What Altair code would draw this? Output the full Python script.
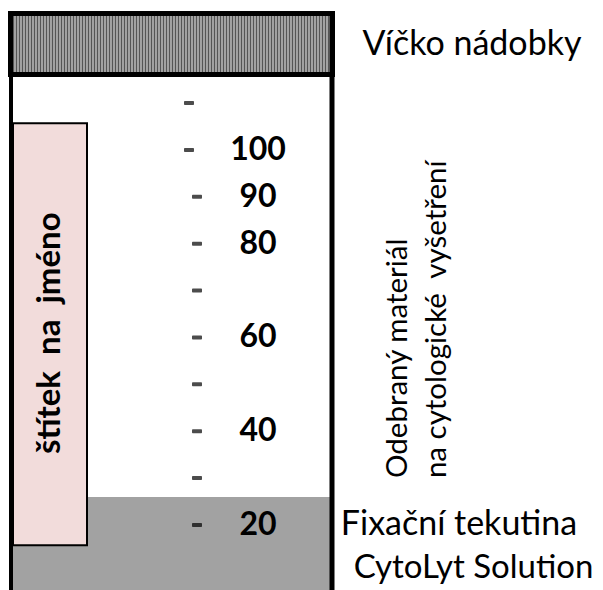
import altair as alt
import pandas as pd

# ---- data -------------------------------------------------------------
dash_levels = [110, 100, 90, 80, 70, 60, 50, 40, 30, 20]
number_levels = [100, 90, 80, 60, 40, 20]
number_labels = ["100", "90", "80", "60", "40", "20"]

NB = "\u00a0"
cap_label = "Víčko nádobky"
fluid_label_1 = "Fixační tekutina"
fluid_label_2 = "CytoLyt Solution"
name_label = "štítek" + NB + NB + "na" + NB + NB + "jméno"
sample_label_1 = "Odebraný materiál"
sample_label_2 = "na cytologické" + NB + NB + "vyšetření"

# container geometry in (horizontal units, volume level units)
fluid_top_level = 26.0
cap_bottom_level = 116.1
cap_top_level = 129.1
label_bottom_level = 15.7
label_top_level = 105.7

# ---- scales ------------------------------------------------------------
W, H = 587, 582
xs = alt.Scale(domain=[8, 595], nice=False, zero=False)
ys = alt.Scale(domain=[6.14, 130.26], nice=False, zero=False)


def X(f="x"):
    return alt.X(f, type="quantitative", scale=xs, axis=None)


def Y(f="y"):
    return alt.Y(f, type="quantitative", scale=ys, axis=None)


def XD(v):
    return alt.datum(v, scale=xs, axis=None, type="quantitative")


def YD(v):
    return alt.datum(v, scale=ys, axis=None, type="quantitative")


FONT = "Lato"

base = alt.Chart(pd.DataFrame({"k": [0]}))

fluid = base.mark_rect(fill="#a2a2a2").encode(
    x=XD(12), x2=alt.datum(331), y=YD(6.14), y2=alt.datum(fluid_top_level)
)

label_box = base.mark_rect(fill="#f2dcdb", stroke="black", strokeWidth=2).encode(
    x=XD(13), x2=alt.datum(87), y=YD(label_bottom_level), y2=alt.datum(label_top_level)
)

walls_df = pd.DataFrame({"x": [11, 332], "w": [4, 5]})
walls = alt.Chart(walls_df).mark_rule(color="black").encode(
    x=X("x"),
    y=YD(6.14),
    y2=alt.datum(cap_bottom_level),
    strokeWidth=alt.StrokeWidth("w:Q", scale=None, legend=None),
)

cap_fill = base.mark_rect(fill="#555555").encode(
    x=XD(10.5), x2=alt.datum(332.5), y=YD(cap_bottom_level), y2=alt.datum(cap_top_level)
)

# decorative hatch of the cap
cap_hatch = alt.Chart(alt.sequence(start=15, stop=329, step=3, as_="x")).mark_rule(
    color="#d6d6d6", strokeWidth=1.2
).encode(x=X("x"), y=YD(cap_bottom_level), y2=alt.datum(cap_top_level))

cap_outline = base.mark_rect(fillOpacity=0, stroke="black", strokeWidth=5).encode(
    x=XD(10.5), x2=alt.datum(332.5), y=YD(cap_bottom_level), y2=alt.datum(cap_top_level)
)

dashes = (
    alt.Chart(pd.DataFrame({"level": dash_levels}))
    .transform_calculate(x="datum.level >= 100 ? 189 : 197")
    .mark_tick(orient="horizontal", thickness=4, size=10, color="black", cornerRadius=1)
    .encode(x=X("x"), y=Y("level"))
)

numbers = (
    alt.Chart(pd.DataFrame({"level": number_levels, "t": number_labels}))
    .transform_calculate(x="258")
    .mark_text(font=FONT, fontSize=32, fontWeight="bold", align="center", baseline="middle", color="black")
    .encode(x=X("x"), y=Y("level"), text="t:N")
)

right_df = pd.DataFrame(
    {
        "t": [cap_label, fluid_label_1, fluid_label_2],
        "x": [472, 459, 473.5],
        "y": [122.4, 20.0, 10.8],
        "s": [34, 34, 33],
    }
)
right_text = alt.Chart(right_df).mark_text(
    font=FONT, align="center", baseline="middle", color="black"
).encode(
    x=X("x"), y=Y("y"), text="t:N",
    size=alt.Size("s:Q", scale=None, legend=None),
)

name_text = alt.Chart(pd.DataFrame({"t": [name_label], "x": [50], "y": [60.9]})).mark_text(
    font=FONT, fontSize=33, fontWeight="bold", angle=270, align="center", baseline="middle", color="black"
).encode(x=X("x"), y=Y("y"), text="t:N")

sample_df = pd.DataFrame({"t": [sample_label_1, sample_label_2], "x": [398, 437], "y": [30.0, 30.0]})
sample_text = alt.Chart(sample_df).mark_text(
    font=FONT, fontSize=29.5, angle=270, align="left", baseline="middle", color="black"
).encode(x=X("x"), y=Y("y"), text="t:N")

chart = (
    alt.layer(
        fluid, label_box, walls, cap_fill, cap_hatch, cap_outline,
        dashes, numbers, right_text, name_text, sample_text,
    )
    .properties(width=W, height=H, padding=0, autosize=alt.AutoSizeParams(type="none"), background="white")
    .configure_view(stroke=None)
)

chart.save("out.html", embed_options={"renderer": "svg", "actions": False})
